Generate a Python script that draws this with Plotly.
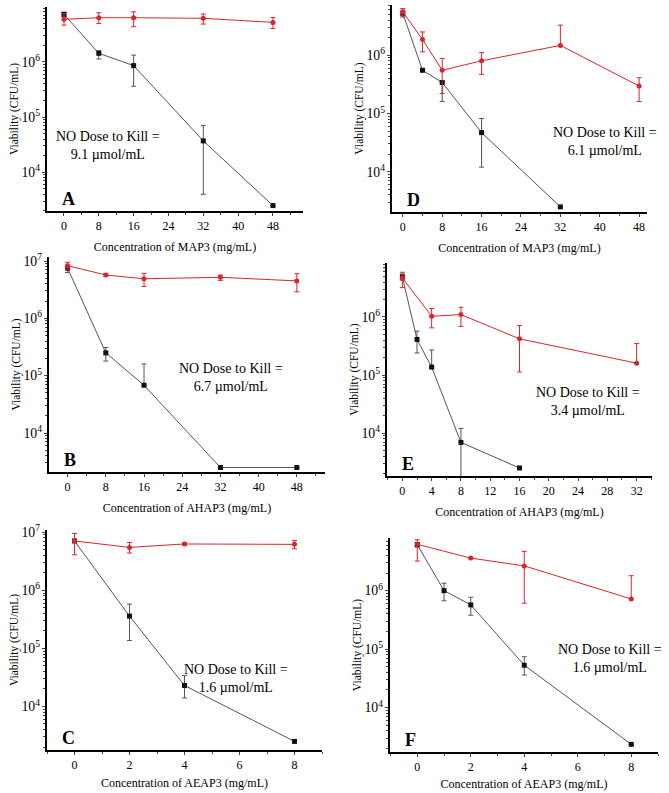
import plotly.graph_objects as go

# ---- data (viability in CFU/mL) ----
# panel A: MAP3
a_x_black = [0, 8, 16, 32, 48]
a_y_black = [7.2e6, 1.42e6, 8.5e5, 3.7e4, 2.5e3]
a_hi_black = [7.8e6, 1.58e6, 1.32e6, 7.0e4, 2.5e3]
a_lo_black = [6.5e6, 1.12e6, 3.6e5, 4.0e3, 2.5e3]
a_x_red = [0, 8, 16, 32, 48]
a_y_red = [5.85e6, 6.25e6, 6.25e6, 6.1e6, 5.15e6]
a_hi_red = [7.4e6, 7.7e6, 8.0e6, 7.3e6, 6.3e6]
a_lo_red = [4.6e6, 4.9e6, 4.3e6, 4.8e6, 4.0e6]

# panel D: MAP3
d_x_black = [0, 4, 8, 16, 32]
d_y_black = [5.2e6, 5.5e5, 3.4e5, 4.7e4, 2.5e3]
d_hi_black = [5.9e6, 5.5e5, 3.5e5, 8.2e4, 2.5e3]
d_lo_black = [4.5e6, 5.5e5, 1.6e5, 1.2e4, 2.5e3]
d_x_red = [0, 4, 8, 16, 32, 48]
d_y_red = [5.5e6, 1.86e6, 5.5e5, 8.0e5, 1.47e6, 2.95e5]
d_hi_red = [6.3e6, 2.5e6, 8.8e5, 1.1e6, 3.27e6, 4.1e5]
d_lo_red = [4.7e6, 1.14e6, 2.2e5, 4.7e5, 1.47e6, 1.6e5]

# panel B: AHAP3
b_x_black = [0, 8, 16, 32, 48]
b_y_black = [7.5e6, 2.5e5, 6.8e4, 2.5e3, 2.5e3]
b_hi_black = [8.3e6, 3.1e5, 1.6e5, 2.5e3, 2.5e3]
b_lo_black = [6.3e6, 1.8e5, 6.8e4, 2.5e3, 2.5e3]
b_x_red = [0, 8, 16, 32, 48]
b_y_red = [8.3e6, 5.7e6, 4.9e6, 5.2e6, 4.5e6]
b_hi_red = [9.5e6, 6.0e6, 6.1e6, 5.7e6, 6.0e6]
b_lo_red = [7.2e6, 5.4e6, 3.6e6, 4.6e6, 2.9e6]

# panel E: AHAP3
e_x_black = [0, 2, 4, 8, 16]
e_y_black = [4.9e6, 4.1e5, 1.37e5, 6.9e3, 2.5e3]
e_hi_black = [5.5e6, 5.7e5, 2.7e5, 1.2e4, 2.5e3]
e_lo_black = [4.3e6, 2.4e5, 1.37e5, 1.5e3, 2.5e3]
e_x_red = [0, 4, 8, 16, 32]
e_y_red = [4.7e6, 1.03e6, 1.1e6, 4.2e5, 1.6e5]
e_hi_red = [5.9e6, 1.4e6, 1.47e6, 7.1e5, 3.5e5]
e_lo_red = [3.2e6, 6.5e5, 6.9e5, 1.13e5, 1.6e5]

# panel C: AEAP3
c_x_black = [0, 2, 4, 8]
c_y_black = [7.1e6, 3.6e5, 2.3e4, 2.5e3]
c_hi_black = [7.1e6, 5.8e5, 3.4e4, 2.5e3]
c_lo_black = [7.1e6, 1.37e5, 1.4e4, 2.5e3]
c_x_red = [0, 2, 4, 8]
c_y_red = [7.1e6, 5.5e6, 6.3e6, 6.2e6]
c_hi_red = [9.6e6, 6.7e6, 6.6e6, 7.2e6]
c_lo_red = [4.1e6, 4.4e6, 6.0e6, 5.2e6]

# panel F: AEAP3
f_x_black = [0, 1, 2, 4, 8]
f_y_black = [6.1e6, 1.0e6, 5.7e5, 5.3e4, 2.35e3]
f_hi_black = [6.6e6, 1.34e6, 7.7e5, 7.4e4, 2.35e3]
f_lo_black = [5.6e6, 6.7e5, 3.8e5, 3.6e4, 2.35e3]
f_x_red = [0, 2, 4, 8]
f_y_red = [6.2e6, 3.6e6, 2.65e6, 7.2e5]
f_hi_red = [7.4e6, 3.6e6, 4.7e6, 1.8e6]
f_lo_red = [3.2e6, 3.6e6, 6.1e5, 7.2e5]

panels = [
    # letter, compound, dose, black, red, x px, y px, x range, y range (log), x dtick, text pos, title standoff
    ("A", "MAP3", "9.1", (a_x_black, a_y_black, a_hi_black, a_lo_black),
     (a_x_red, a_y_red, a_hi_red, a_lo_red),
     [47, 303], [7, 211], [-3.9, 54.9], [3.30, 6.99], 8, (108, 145), 10),
    ("D", "MAP3", "6.1", (d_x_black, d_y_black, d_hi_black, d_lo_black),
     (d_x_red, d_y_red, d_hi_red, d_lo_red),
     [392, 647], [5, 212], [-2.2, 49.6], [3.31, 6.86], 8, (605, 141), 10),
    ("B", "AHAP3", "6.7", (b_x_black, b_y_black, b_hi_black, b_lo_black),
     (b_x_red, b_y_red, b_hi_red, b_lo_red),
     [49, 325], [257, 472], [-3.9, 53.9], [3.32, 7.07], 8, (231, 377), 10),
    ("E", "AHAP3", "3.4", (e_x_black, e_y_black, e_hi_black, e_lo_black),
     (e_x_red, e_y_red, e_hi_red, e_lo_red),
     [387, 652], [263, 476], [-2.1, 34.1], [3.26, 6.93], 4, (588, 401), 10),
    ("C", "AEAP3", "1.6", (c_x_black, c_y_black, c_hi_black, c_lo_black),
     (c_x_red, c_y_red, c_hi_red, c_lo_red),
     [47, 322], [530, 750], [-1, 9], [3.25, 7.04], 2, (236, 678), 7),
    ("F", "AEAP3", "1.6", (f_x_black, f_y_black, f_hi_black, f_lo_black),
     (f_x_red, f_y_red, f_hi_red, f_lo_red),
     [390, 658], [538, 752], [-1.02, 9.0], [3.24, 6.90], 2, (610, 658), 6),
]

W, H = 669, 793
FONT = "Liberation Serif, Times New Roman, serif"
BLACK = "#111111"
BLACK_LINE = "#555555"
RED = "#d8262e"

fig = go.Figure()
annotations = []

for i, (letter, comp, dose, blk, red, xd, yd, xr, yr, dt, tpos, so) in enumerate(panels):
    n = "" if i == 0 else str(i + 1)
    xa, ya = "x" + n, "y" + n

    for (xs, ys, hi, lo), mcol, lcol, sym in [(blk, BLACK, BLACK_LINE, "square"),
                                              (red, RED, RED, "circle")]:
        fig.add_trace(go.Scatter(
            x=xs, y=ys, mode="lines+markers", xaxis=xa, yaxis=ya,
            line=dict(color=lcol, width=1),
            marker=dict(symbol=sym, size=5, color=mcol),
            error_y=dict(type="data", symmetric=False,
                         array=[h - v for h, v in zip(hi, ys)],
                         arrayminus=[v - l for v, l in zip(ys, lo)],
                         color=lcol, thickness=1, width=2.5),
            showlegend=False, cliponaxis=True,
        ))

    fig.layout["xaxis" + n] = dict(
        domain=[xd[0] / W, xd[1] / W], anchor=ya, range=xr, automargin=False,
        tick0=0, dtick=dt, ticks="outside", ticklen=3, tickwidth=1,
        minor=dict(dtick=dt / 2, ticks="outside", ticklen=2, tickwidth=1),
        showline=True, linecolor="black", linewidth=1.5, showgrid=False, zeroline=False,
        tickfont=dict(family=FONT, size=12, color="black"),
        title=dict(text=f"Concentration of {comp} (mg/mL)", standoff=so,
                   font=dict(family=FONT, size=12, color="black")),
    )
    fig.layout["yaxis" + n] = dict(
        domain=[1 - yd[1] / H, 1 - yd[0] / H], anchor=xa, type="log", range=yr,
        automargin=False,
        dtick=1, exponentformat="power", ticks="outside", ticklen=3, tickwidth=1,
        minor=dict(dtick="D1", ticks="outside", ticklen=2, tickwidth=1),
        showline=True, linecolor="black", linewidth=1.5, showgrid=False, zeroline=False,
        tickfont=dict(family=FONT, size=11, color="black"),
        title=dict(text="Viability (CFU/mL)", standoff=0,
                   font=dict(family=FONT, size=11.5, color="black")),
    )

    annotations.append(dict(
        x=tpos[0] / W, y=1 - tpos[1] / H, xref="paper", yref="paper",
        xanchor="center", yanchor="middle",
        text=f"NO Dose to Kill =<br>{dose} µmol/mL", showarrow=False,
        font=dict(family=FONT, size=14, color="black"), align="center",
    ))
    annotations.append(dict(
        x=(xd[0] + 13) / W, y=1 - (yd[1] - 12) / H, xref="paper", yref="paper",
        text=f"<b>{letter}</b>", showarrow=False, xanchor="left", yanchor="middle",
        font=dict(family=FONT, size=18, color="black"),
    ))

fig.update_layout(
    width=W, height=H, margin=dict(l=0, r=0, t=0, b=0),
    paper_bgcolor="white", plot_bgcolor="white",
    annotations=annotations,
)

# page body has a default 8px margin; drop it so the figure fills the window
fig.write_html("out.html", config={"displayModeBar": False},
               post_script="document.body.style.margin = '0';")
